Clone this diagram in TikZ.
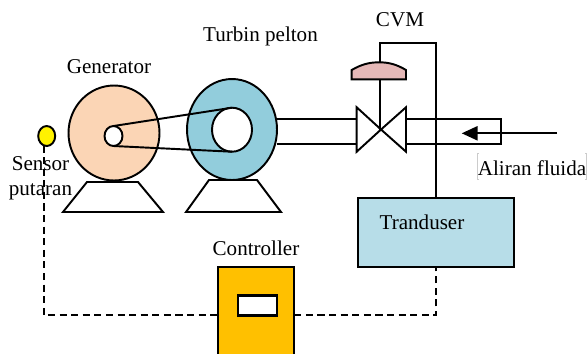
\documentclass[tikz,border=0pt]{standalone}
\usepackage{fontspec}
\setmainfont{Liberation Serif}
\usepackage{tikz}
\usetikzlibrary{arrows.meta}
\usetikzlibrary{shapes.geometric}
\definecolor{genfill}{HTML}{FBD5B5}
\definecolor{turbfill}{HTML}{92CDDC}
\definecolor{transfill}{HTML}{B7DDE8}
\definecolor{ctrlfill}{HTML}{FFC000}
\definecolor{capfill}{HTML}{E5B8B7}
\tikzset{
  part/.style={draw=black, line width=1.1pt, inner sep=0pt, outer sep=0pt},
  wheel/.style={part, ellipse},
  label/.style={font=\fontsize{12}{14}\selectfont, inner sep=0pt, align=center},
  pipe/.style={draw=black, line width=1.1pt},
  signal/.style={draw=black, line width=1.1pt, dash pattern=on 4pt off 2.6pt}
}
\begin{document}
\begin{tikzpicture}[x=0.02cm, y=-0.02cm]
      \clip (0, 0) rectangle (587, 353);
      \fill[white] (0, 0) rectangle (587, 353);
      % bases
      \draw[pipe, fill=white] (87, 182) -- (138, 182) -- (163, 212) -- (63, 212) -- cycle;
      \draw[pipe, fill=white] (209, 180) -- (257, 180) -- (281, 212) -- (186, 212) -- cycle;
      % wheels and belt
      \node[wheel, fill=genfill, minimum width=1.82cm, minimum height=1.9cm] (generator) at (114, 133) {};
      \node[wheel, fill=turbfill, minimum width=1.8cm, minimum height=2.02cm] (turbin) at (232, 129.5) {};
      \node[wheel, fill=white, minimum width=0.8cm, minimum height=0.88cm] (runner) at (232, 129.7) {};
      \node[wheel, fill=white, minimum width=0.36cm, minimum height=0.4cm] (hub) at (113.5, 136) {};
      \draw[pipe] (hub.north) -- (runner.north);
      \draw[pipe] (hub.south) -- (runner.south);
      % pipes
      \coordinate (pipeTL) at (277, 119.3);
      \coordinate (pipeBL) at (277, 143.7);
      \coordinate (valveLT) at (356.7, 107.3);
      \coordinate (valveLB) at (356.7, 151.7);
      \coordinate (valveRT) at (406, 107.3);
      \coordinate (valveRB) at (406, 151.7);
      \coordinate (valveC) at (381, 129.5);
      \draw[pipe] (pipeTL) -- (356.7, 119.3);
      \draw[pipe] (pipeBL) -- (356.7, 143.7);
      \draw[pipe] (406, 119.3) -- (501.3, 119.3) -- (501.3, 143.7) -- (406, 143.7);
      \draw[pipe, line join=miter] (valveC) -- (valveLT) -- (valveLB) -- (valveC) -- (valveRT) -- (valveRB) -- cycle;
      % actuator
      \draw[pipe, fill=capfill] (351.7, 79.3) -- (351.7, 70) .. controls (362, 64) and (370, 62.3) .. (379, 62.3)
        .. controls (388, 62.3) and (396, 64) .. (406, 70) -- (406, 79.3) -- cycle;
      \coordinate (capT) at (380, 62.3);
      \coordinate (capB) at (380, 79.3);
      \coordinate (stemB) at (380, 129.5);
      \draw[pipe] (capB) -- (stemB);
      % transduser, controller
      \node[part, fill=transfill, minimum width=3.12cm, minimum height=1.39cm] (tranduser) at (436, 232.3) {};
      \node[part, fill=ctrlfill, minimum width=1.52cm, minimum height=2.2cm] (controller) at (256.3, 321.7) {};
      \node[part, fill=white, line width=1.3pt, minimum width=0.78cm, minimum height=0.4cm] (display) at (257.7, 305.5) {};
      \node[wheel, fill=yellow, minimum width=0.34cm, minimum height=0.4cm] (sensor) at (46.7, 136) {};
      \draw[pipe] (capT) -- (380, 43) -- (436, 43) -- (tranduser.north);
      % signal
      \coordinate (sigS) at (43.8, 145.5);
      \draw[signal] (sigS) -- (43.8, 315.3) -- (controller.west |- 0, 315.3);
      \draw[signal] (controller.east |- 0, 315.3) -- (436, 315.3) -- (tranduser.south);
      % flow
      \coordinate (flowA) at (557, 133.3);
      \coordinate (flowB) at (461.7, 133.3);
      \draw[pipe, -{Triangle[length=9pt, width=8pt]}] (flowA) -- (flowB);
      % labels
      \node[label] (lblgen) at (109, 67) {Generator};
      \node[label] (lblturb) at (260.5, 36) {Turbin pelton};
      \node[label] (lblcvm) at (400, 20) {CVM};
      \node[label] (lblsensor) at (40.5, 178.5) {Sensor\\putaran};
      \node[label] (lblctrl) at (256, 248) {Controller};
      \node[label] (lbltrans) at (422, 222) {Tranduser};
      \node[label] (lblflow) at (532, 168) {Aliran fluida};
      \draw[gray!40, line width=0.3pt] (478.5, 153) -- (477, 153) -- (477, 179) -- (478.5, 179);
      \draw[gray!40, line width=0.3pt] (585, 153) -- (586.5, 153) -- (586.5, 179) -- (585, 179);
    \end{tikzpicture}
\end{document}
